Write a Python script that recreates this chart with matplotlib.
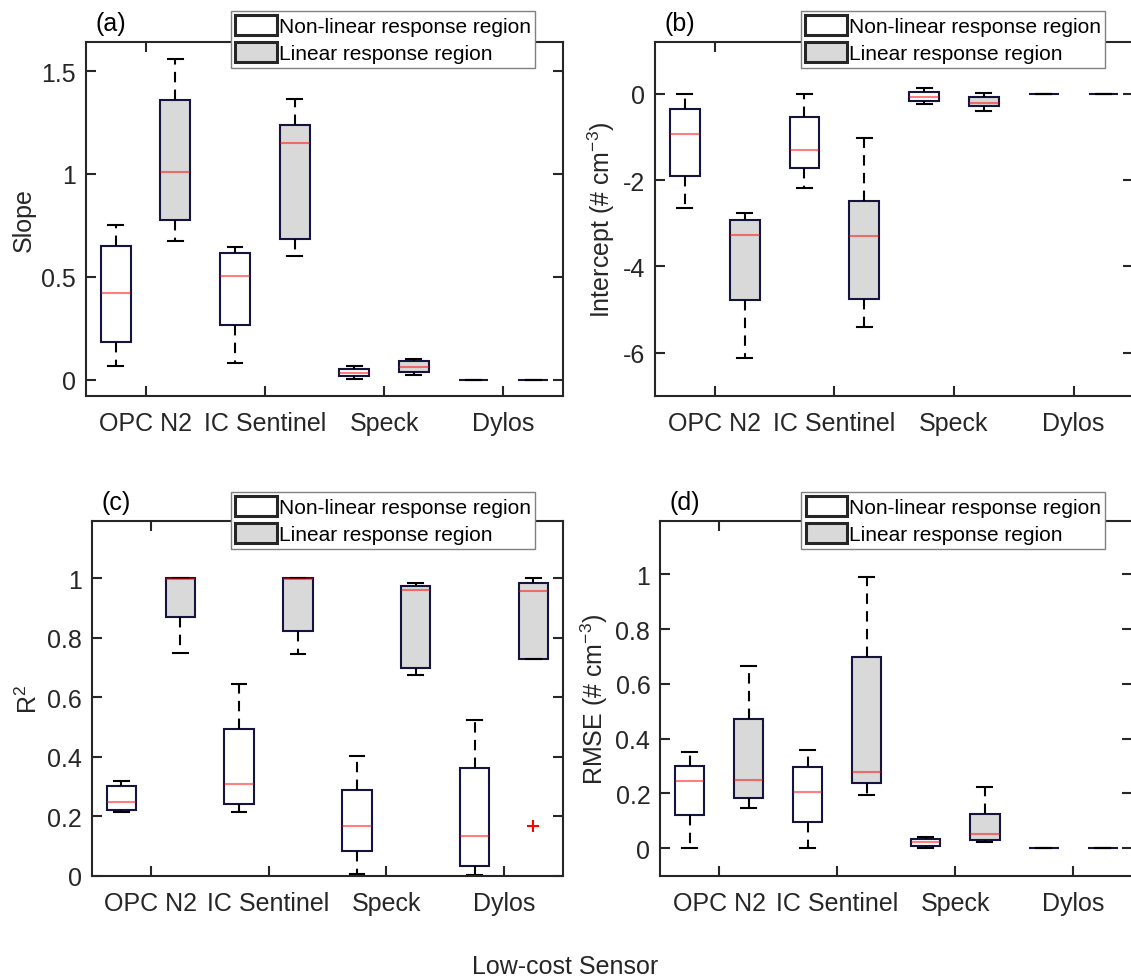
import matplotlib
matplotlib.use("Agg")
import matplotlib.pyplot as plt
from matplotlib.patches import Patch
from matplotlib.ticker import FormatStrFormatter
import numpy as np

plt.rcParams['font.family'] = ['Liberation Sans', 'DejaVu Sans']
plt.rcParams['mathtext.default'] = 'regular'

sensors = ['OPC N2', 'IC Sentinel', 'Speck', 'Dylos']
regions = ['Non-linear response region', 'Linear response region']

# each row: [lower whisker, Q1, median, Q3, upper whisker]; boxes alternate non-linear / linear
slope = [[0.070, 0.184, 0.424, 0.652, 0.751],
         [0.676, 0.775, 1.011, 1.358, 1.560],
         [0.084, 0.269, 0.506, 0.618, 0.644],
         [0.604, 0.684, 1.152, 1.238, 1.366],
         [0.003, 0.019, 0.034, 0.052, 0.070],
         [0.024, 0.039, 0.061, 0.094, 0.102],
         [0.0, 0.0, 0.0, 0.0, 0.0],
         [0.0, 0.0, 0.0, 0.0, 0.0]]

intercept = [[-2.65, -1.90, -0.93, -0.355, 0.0],
             [-6.11, -4.78, -3.27, -2.92, -2.77],
             [-2.19, -1.71, -1.305, -0.548, 0.0],
             [-5.40, -4.757, -3.305, -2.48, -1.035],
             [-0.247, -0.178, -0.085, 0.04, 0.124],
             [-0.40, -0.286, -0.216, -0.077, 0.008],
             [0.0, 0.0, 0.0, 0.0, 0.0],
             [0.0, 0.0, 0.0, 0.0, 0.0]]

r2 = [[0.214, 0.222, 0.249, 0.302, 0.319],
      [0.748, 0.872, 0.999, 1.0, 1.0],
      [0.214, 0.243, 0.308, 0.495, 0.645],
      [0.745, 0.823, 0.999, 1.0, 1.0],
      [0.006, 0.083, 0.169, 0.290, 0.404],
      [0.675, 0.699, 0.962, 0.976, 0.983],
      [0.003, 0.034, 0.133, 0.362, 0.524],
      [0.730, 0.730, 0.957, 0.983, 1.0]]
r2_fliers = [[], [], [], [], [], [], [], [0.167]]

rmse = [[0.0, 0.121, 0.246, 0.301, 0.350],
        [0.146, 0.184, 0.250, 0.471, 0.665],
        [0.0, 0.097, 0.205, 0.295, 0.360],
        [0.195, 0.239, 0.278, 0.698, 0.989],
        [0.0, 0.007, 0.023, 0.034, 0.040],
        [0.021, 0.029, 0.051, 0.124, 0.222],
        [0.0, 0.0, 0.0, 0.0, 0.0],
        [0.0, 0.0, 0.0, 0.0, 0.0]]

TXT = '#262626'
BOX_EDGE = '#14143c'
FILLS = ['white', '#d9d9d9']


def make_stats(rows, fliers=None):
    stats = []
    for i, (lo, q1, med, q3, hi) in enumerate(rows):
        fl = fliers[i] if fliers else []
        stats.append(dict(whislo=lo, q1=q1, med=med, q3=q3, whishi=hi, fliers=fl))
    return stats


def draw_panel(ax, rows, fliers, ylabel, ylim, yticks, tag, leg_x, leg_y):
    pos = np.arange(1, len(rows) + 1)
    bp = ax.bxp(make_stats(rows, fliers), positions=pos, widths=0.5, capwidths=0.25,
                patch_artist=True, showfliers=True,
                boxprops=dict(edgecolor=BOX_EDGE, linewidth=1.5),
                whiskerprops=dict(color='black', linewidth=1.5, linestyle=(0, (5, 3.5))),
                capprops=dict(color='black', linewidth=1.5),
                medianprops=dict(color='red', alpha=0.5, linewidth=1.5),
                flierprops=dict(marker='+', markeredgecolor='red', markersize=8,
                                markeredgewidth=1.5, linestyle='none'))
    for i, patch in enumerate(bp['boxes']):
        patch.set_facecolor(FILLS[i % 2])
        # collapsed boxes (all zero) show only the dark outline
        if rows[i][1] == rows[i][3]:
            bp['medians'][i].set_visible(False)

    ax.set_xlim(0.5, 8.5)
    ax.set_xticks([1.5, 3.5, 5.5, 7.5], sensors)
    ax.set_ylim(*ylim)
    ax.set_yticks(yticks)
    ax.yaxis.set_major_formatter(FormatStrFormatter('%g'))
    ax.tick_params(direction='in', top=True, right=True, length=7, width=1.5,
                   labelsize=18, colors=TXT, pad=7)
    ax.tick_params(axis='x', pad=11)
    for sp in ax.spines.values():
        sp.set_linewidth(1.5)
        sp.set_color(TXT)
    ax.set_ylabel(ylabel, fontsize=18, color=TXT)
    ax.text(0.052, 1.054, tag, transform=ax.transAxes, ha='center', va='center',
            fontsize=18, color='black')

    handles = [Patch(facecolor=FILLS[0], edgecolor=TXT, linewidth=2.2),
               Patch(facecolor=FILLS[1], edgecolor=TXT, linewidth=2.2)]
    leg = ax.legend(handles, regions, loc='upper right', bbox_to_anchor=(leg_x, leg_y),
                    bbox_transform=ax.transAxes, fontsize=15, frameon=True, fancybox=False,
                    edgecolor='#808080', framealpha=1, borderpad=0.2, labelspacing=0.3,
                    handlelength=2.0, handleheight=1.1, handletextpad=0.1, borderaxespad=0)
    leg.get_frame().set_linewidth(1.0)


fig = plt.figure(figsize=(11.31, 9.79), dpi=100)
ax_a = fig.add_axes([0.0760, 0.5945, 0.4218, 0.3616])
ax_b = fig.add_axes([0.5791, 0.5945, 0.4230, 0.3616])
ax_c = fig.add_axes([0.0813, 0.1042, 0.4164, 0.3626])
ax_d = fig.add_axes([0.5836, 0.1042, 0.4176, 0.3626])

draw_panel(ax_a, slope, None, 'Slope', (-0.078, 1.641), [0, 0.5, 1, 1.5], '(a)', 0.941, 1.088)
draw_panel(ax_b, intercept, None, 'Intercept (# cm$^{-3}$)', (-7, 1.2), [-6, -4, -2, 0],
           '(b)', 0.941, 1.088)
draw_panel(ax_c, r2, r2_fliers, 'R$^{2}$', (0, 1.193), [0, 0.2, 0.4, 0.6, 0.8, 1],
           '(c)', 0.941, 1.082)
draw_panel(ax_d, rmse, None, 'RMSE (# cm$^{-3}$)', (-0.102, 1.195), [0, 0.2, 0.4, 0.6, 0.8, 1],
           '(d)', 0.943, 1.082)

fig.text(0.4996, 0.0123, 'Low-cost Sensor', ha='center', va='center', fontsize=18, color=TXT)

fig.savefig('out.png', dpi=100)
